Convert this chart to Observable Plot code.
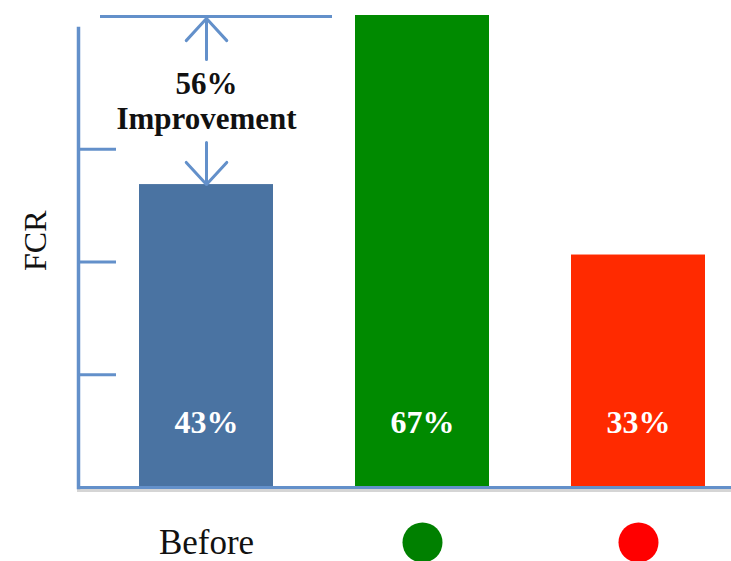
<!DOCTYPE html>
<html><head><meta charset="utf-8">
<script src="https://cdn.jsdelivr.net/npm/d3@7"></script>
<script src="https://cdn.jsdelivr.net/npm/@observablehq/plot@0.6"></script>
<style>
  html, body { margin: 0; padding: 0; background: #fff; }
  #chart svg { display: block; }
</style>
</head><body><div id="chart"></div>
<script>
// ---- data ----
const categories = ["Before", "Green", "Red"];
const fcrValues = [43, 67, 33];
const valueLabels = ["43%", "67%", "33%"];
const barColors = ["#4a73a2", "#008a00", "#ff2a00"];
const yTicks = [16, 32, 48];
const yLabel = "FCR";
const improvementWord = "Improvement";

// ---- derived table ----
const data = categories.map((c, i) => ({category: c, value: fcrValues[i], label: valueLabels[i]}));
const before = fcrValues[0];
const best = d3.max(fcrValues);
const improvement = Math.round((best - before) / before * 100) + "%";
const annotation = [{category: categories[0], start: before, end: best}];

const axisColor = "#6390ca";
const serif = "'Liberation Serif', 'DejaVu Serif', serif";

const chart = Plot.plot({
  width: 731,
  height: 561,
  marginLeft: 78,
  marginRight: 0,
  marginTop: 28,
  marginBottom: 74,
  style: {background: "#fff", fontFamily: serif},
  x: {domain: categories, range: [139, 705], paddingInner: 0.38, paddingOuter: 0, label: null},
  y: {domain: [0, best], range: [487, 15], axis: null},
  color: {domain: categories, range: barColors},
  marks: [
    Plot.barY(data, {x: "category", y: "value", fill: "category"}),
    Plot.text(data, {x: "category", text: "label", frameAnchor: "bottom", dy: -55,
      fill: "#fff", fontSize: 32, fontWeight: "bold", fontFamily: serif}),
    // axes
    Plot.frame({anchor: "bottom", stroke: "#888", strokeOpacity: 0.35, strokeWidth: 3, dy: 3}),
    Plot.frame({anchor: "bottom", stroke: axisColor, strokeWidth: 3}),
    Plot.frame({anchor: "left", stroke: axisColor, strokeWidth: 3.5}),
    Plot.ruleY(yTicks, {insetRight: 731 - 78 - 38, stroke: axisColor, strokeWidth: 3}),
    Plot.axisX({tickSize: 0, tickPadding: 42, fontSize: 35, fontFamily: serif, fill: "#111",
      tickFormat: d => d === categories[0] ? d : "", label: null}),
    Plot.dot(data.filter(d => d.category !== categories[0]), {x: "category", frameAnchor: "bottom",
      dy: 55, r: 20, fill: "category"}),
    Plot.text([yLabel], {text: d => d, frameAnchor: "left", dx: -43, dy: 13, rotate: -90,
      fontSize: 32, fontFamily: serif, fill: "#111"}),
    // improvement annotation
    Plot.ruleY(annotation, {y: "end", insetLeft: 22, insetRight: 399, dy: 1, stroke: axisColor, strokeWidth: 3}),
    Plot.arrow(annotation, {x1: "category", x2: "category", y1: "start", y2: "end",
      insetStart: 125, insetEnd: 3, headLength: 15, headAngle: 85, stroke: axisColor, strokeWidth: 3}),
    Plot.arrow(annotation, {x1: "category", x2: "category", y1: "end", y2: "start",
      insetStart: 127, insetEnd: 0, headLength: 15, headAngle: 85, stroke: axisColor, strokeWidth: 3}),
    Plot.text(annotation, {x: "category", y: d => (d.start + d.end) / 2,
      text: d => improvement + "\n" + improvementWord, lineHeight: 1.15,
      fontSize: 31, fontWeight: "bold", fontFamily: serif, fill: "#111"})
  ]
});
document.getElementById("chart").append(chart);
</script>
</body></html>
